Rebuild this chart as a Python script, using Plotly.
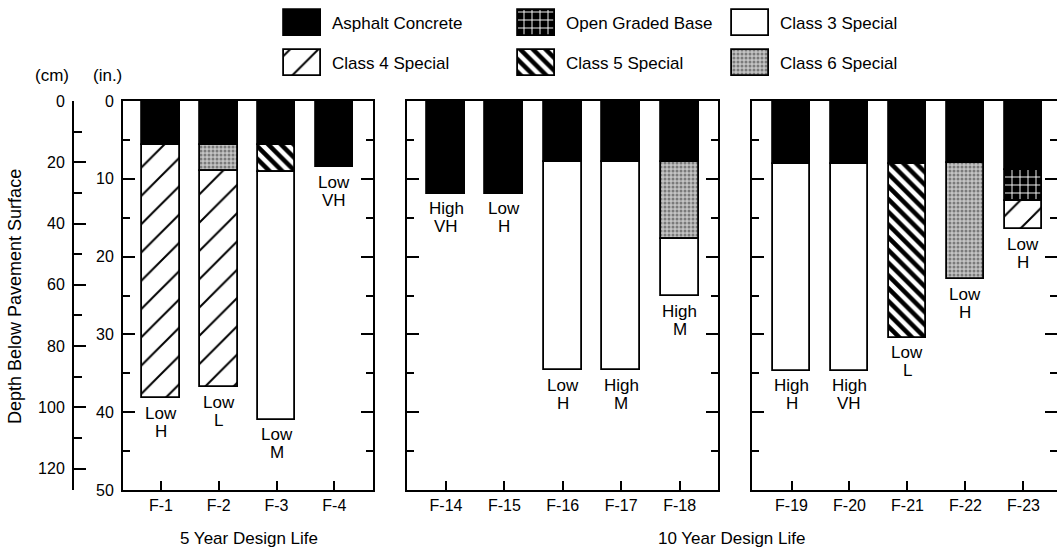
import plotly.graph_objects as go

FONT = "Arial, 'Liberation Sans', Helvetica, sans-serif"
FS = 17

# ---------------- data ----------------
sites_p1 = ["F-1", "F-2", "F-3", "F-4"]
sites_p2 = ["F-14", "F-15", "F-16", "F-17", "F-18"]
sites_p3 = ["F-19", "F-20", "F-21", "F-22", "F-23"]

# stacking order (top of pavement downwards)
layer_names = ["Asphalt Concrete", "Open Graded Base", "Class 5 Special",
               "Class 6 Special", "Class 4 Special", "Class 3 Special"]
legend_order = ["Asphalt Concrete", "Open Graded Base", "Class 3 Special",
                "Class 4 Special", "Class 5 Special", "Class 6 Special"]

# layer thickness in inches (None = layer absent)
p1_asphalt = [5.6, 5.6, 5.6, 8.5]
p1_open_graded = [None, None, None, None]
p1_class5 = [None, None, 3.5, None]
p1_class6 = [None, 3.4, None, None]
p1_class4 = [32.6, 27.8, None, None]
p1_class3 = [None, None, 31.9, None]

p2_asphalt = [11.9, 11.9, 7.9, 7.9, 7.9]
p2_open_graded = [None, None, None, None, None]
p2_class5 = [None, None, None, None, None]
p2_class6 = [None, None, None, None, 9.8]
p2_class4 = [None, None, None, None, None]
p2_class3 = [None, None, 26.7, 26.7, 7.4]

p3_asphalt = [8.1, 8.1, 8.1, 8.0, 8.9]
p3_open_graded = [None, None, None, None, 4.0]
p3_class5 = [None, None, 22.3, None, None]
p3_class6 = [None, None, None, 14.9, None]
p3_class4 = [None, None, None, None, 3.6]
p3_class3 = [26.6, 26.6, None, None, None]

p1_label_top = ["Low", "Low", "Low", "Low"]
p1_label_bottom = ["H", "L", "M", "VH"]
p2_label_top = ["High", "Low", "Low", "High", "High"]
p2_label_bottom = ["VH", "H", "H", "M", "M"]
p3_label_top = ["High", "High", "Low", "Low", "Low"]
p3_label_bottom = ["H", "VH", "L", "H", "H"]

y_ticks_in = [0, 10, 20, 30, 40, 50]
y_ticks_cm = [0, 20, 40, 60, 80, 100, 120]
group_titles = ["5 Year Design Life", "10 Year Design Life"]
axis_title = "Depth Below Pavement Surface"

# ---------------- styles ----------------
W, H = 1057, 550
STYLE = {
    "Asphalt Concrete": dict(color="black"),
    "Open Graded Base": dict(color="black", pattern=dict(shape="+", fgcolor="white", bgcolor="black",
                                                         fgopacity=1, size=8, solidity=0.22)),
    "Class 3 Special": dict(color="white"),
    "Class 4 Special": dict(color="white", pattern=dict(shape="/", fgcolor="black", bgcolor="white",
                                                        fgopacity=1, size=20, solidity=0.1)),
    "Class 5 Special": dict(color="white", pattern=dict(shape="\\", fgcolor="black", bgcolor="white",
                                                        fgopacity=1, size=9, solidity=0.5)),
    "Class 6 Special": dict(color="#b8b8b8", pattern=dict(shape=".", fgcolor="#7a7a7a", bgcolor="#c4c4c4",
                                                          fgopacity=1, size=4, solidity=0.45)),
}


def marker_for(name):
    st = STYLE[name]
    m = dict(color=st["color"], line=dict(color="black", width=1.8))
    if "pattern" in st:
        m["pattern"] = st["pattern"]
    return m


panels = [
    dict(sites=sites_p1, layers=[p1_asphalt, p1_open_graded, p1_class5, p1_class6, p1_class4, p1_class3],
         top=p1_label_top, bottom=p1_label_bottom, xa="x", ya="y", px=(123, 373), rng=(-0.657, 3.67)),
    dict(sites=sites_p2, layers=[p2_asphalt, p2_open_graded, p2_class5, p2_class6, p2_class4, p2_class3],
         top=p2_label_top, bottom=p2_label_bottom, xa="x2", ya="y2", px=(407, 718), rng=(-0.668, 4.658)),
    dict(sites=sites_p3, layers=[p3_asphalt, p3_open_graded, p3_class5, p3_class6, p3_class4, p3_class3],
         top=p3_label_top, bottom=p3_label_bottom, xa="x3", ya="y3", px=(752, 1057), rng=(-0.681, 4.578)),
]

fig = go.Figure()
annotations = []

for p in panels:
    n = len(p["sites"])
    depth = [0.0] * n
    for name, vals in zip(layer_names, p["layers"]):
        xs, ys, bs = [], [], []
        for i, v in enumerate(vals):
            if v is None:
                continue
            xs.append(p["sites"][i]); ys.append(v); bs.append(depth[i])
            depth[i] += v
        if xs:
            fig.add_trace(go.Bar(x=xs, y=ys, base=bs, width=0.65, marker=marker_for(name),
                                 xaxis=p["xa"], yaxis=p["ya"], showlegend=False, name=name,
                                 hoverinfo="skip"))
    for i, s in enumerate(p["sites"]):
        for txt, shift in ((p["top"][i], -15), (p["bottom"][i], -33)):
            annotations.append(dict(x=s, y=depth[i], xref=p["xa"], yref=p["ya"], text=txt,
                                    showarrow=False, xanchor="center", yanchor="middle", yshift=shift,
                                    font=dict(size=FS, color="black", family=FONT)))

# invisible trace to anchor the cm axis
fig.add_trace(go.Scatter(x=[None], y=[None], xaxis="x", yaxis="y4", showlegend=False, hoverinfo="skip"))

# ---------------- custom legend (drawn as bars on a helper axis) ----------------
LEG_BOTTOM = 85
leg_col_left = [284, 518, 732]
leg_row_top = [10, 50]
leg_w, leg_h = 37, 26
for i, name in enumerate(legend_order):
    c, r = i % 3, i // 3
    fig.add_trace(go.Bar(x=[leg_col_left[c] + leg_w / 2], y=[leg_h], base=[leg_row_top[r]], width=leg_w,
                         marker=marker_for(name), xaxis="x4", yaxis="y5", showlegend=False,
                         hoverinfo="skip"))
    annotations.append(dict(x=leg_col_left[c] + leg_w + 9, y=leg_row_top[r] + leg_h / 2, xref="x4", yref="y5",
                            text=name, showarrow=False, xanchor="left", yanchor="middle",
                            font=dict(size=17, color="black", family=FONT)))

# ---------------- text ----------------
def px_x(v):
    return min(1.0, v / W)


def px_y(v):
    return 1 - v / H


def paper_text(x, y, text, size=FS, **kw):
    d = dict(x=px_x(x), y=px_y(y), xref="paper", yref="paper", text=text, showarrow=False,
             xanchor="center", yanchor="middle", font=dict(size=size, color="black", family=FONT))
    d.update(kw)
    return d


annotations += [
    paper_text(249, 538, group_titles[0]),
    paper_text(731, 538, group_titles[1]),
    paper_text(15, 297, axis_title, size=18, textangle=-90),
    paper_text(52, 75, "(cm)"),
    paper_text(107, 75, "(in.)"),
]

y_dom = [px_y(490), px_y(101)]
axis_common = dict(showgrid=False, zeroline=False, showline=True, linecolor="black", linewidth=2,
                   tickcolor="black", tickwidth=2, tickfont=dict(size=16, color="black", family=FONT))

layout = dict(
    width=W, height=H, autosize=False, margin=dict(l=0, r=0, t=0, b=0, autoexpand=False),
    paper_bgcolor="white", plot_bgcolor="rgba(0,0,0,0)", barmode="overlay", bargap=0,
    font=dict(family=FONT, size=FS, color="black"),
    annotations=annotations,
)

for k, p in enumerate(panels):
    xname = "xaxis" if k == 0 else f"xaxis{k + 1}"
    yname = "yaxis" if k == 0 else f"yaxis{k + 1}"
    layout[xname] = dict(axis_common, domain=[px_x(p["px"][0]), px_x(p["px"][1])], type="category",
                         categoryorder="array", categoryarray=p["sites"], range=list(p["rng"]),
                         anchor=p["ya"], ticks="inside", ticklen=9, mirror=True, fixedrange=True)
    layout[yname] = dict(axis_common, domain=y_dom, range=[50, 0], anchor=p["xa"], tickvals=y_ticks_in,
                         ticks="inside", ticklen=12, mirror="ticks", showticklabels=(k == 0),
                         ticklabelstandoff=4,
                         minor=dict(dtick=5, tick0=0, ticks="inside", ticklen=7, tickwidth=2, tickcolor="black"),
                         fixedrange=True)

layout["yaxis4"] = dict(axis_common, overlaying="y", anchor="free", position=px_x(73), side="left",
                        range=[127, 0], tickvals=y_ticks_cm, ticks="inside", ticklen=12,
                        ticklabelstandoff=4,
                        minor=dict(tickvals=[10, 30, 50, 70, 90, 110], ticks="inside", ticklen=8,
                                   tickwidth=2, tickcolor="black"),
                        fixedrange=True)
layout["xaxis4"] = dict(domain=[0, 1], range=[0, W], visible=False, anchor="y5", fixedrange=True)
layout["yaxis5"] = dict(domain=[px_y(LEG_BOTTOM), 1], range=[LEG_BOTTOM, 0], visible=False, anchor="x4",
                        fixedrange=True)

fig.update_layout(**layout)
fig.write_html("out.html", config={"displayModeBar": False},
               post_script="document.body.style.margin='0px';document.body.style.overflow='hidden';")
